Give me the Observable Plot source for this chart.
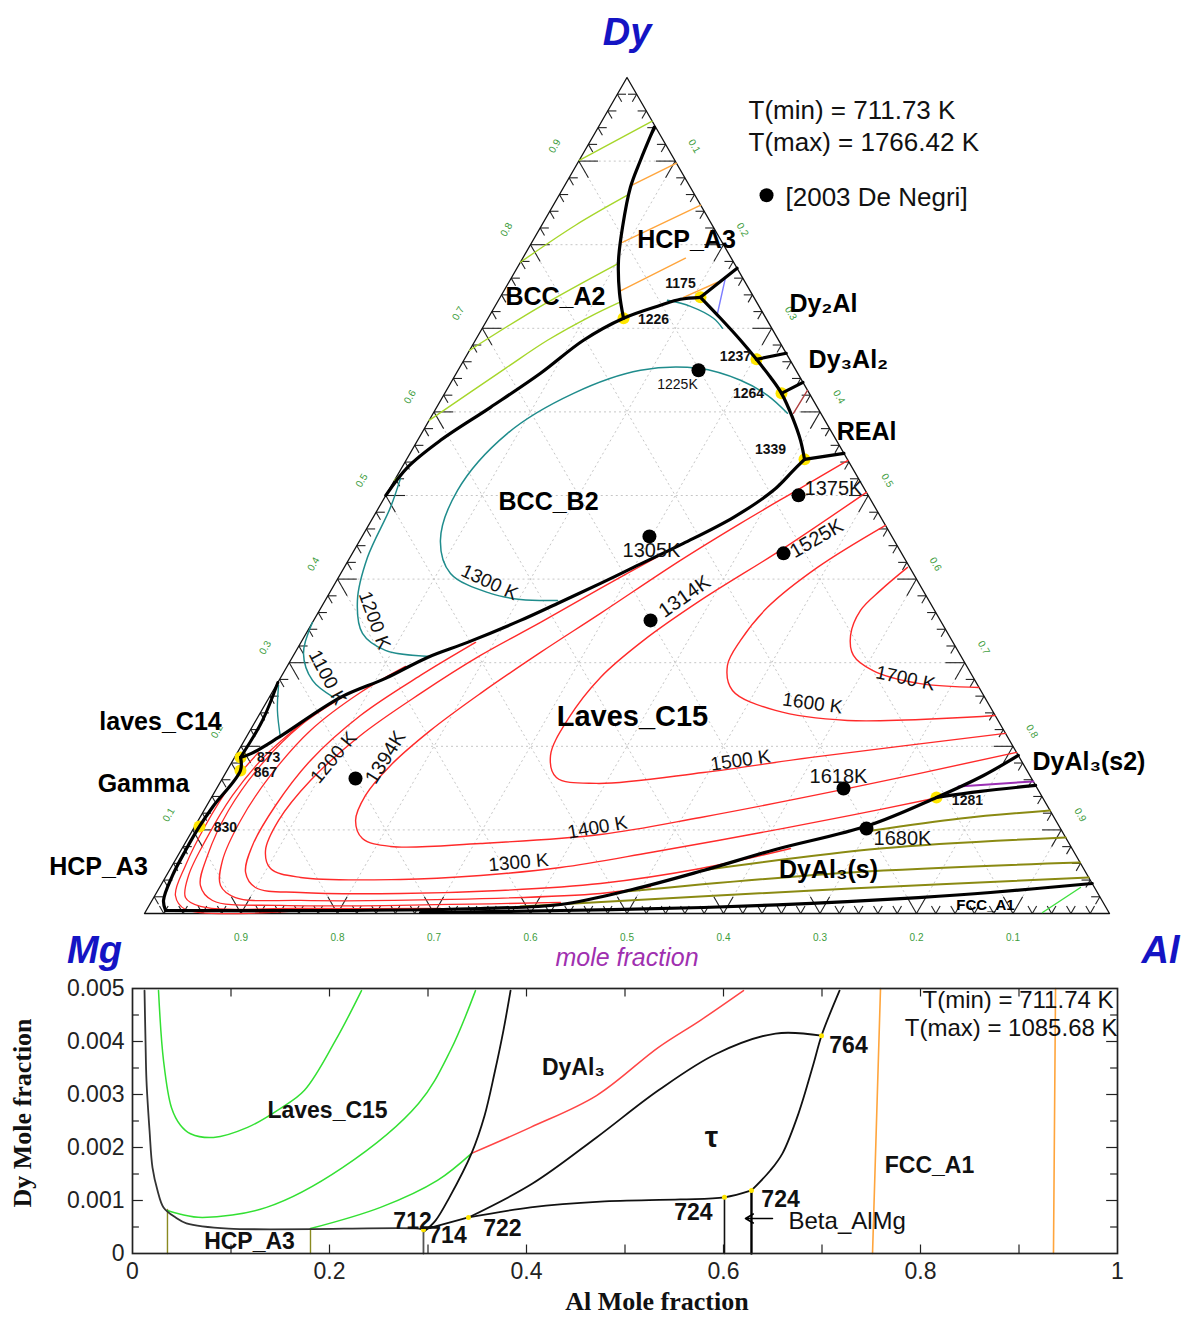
<!DOCTYPE html>
<html><head><meta charset="utf-8">
<script src="https://cdn.jsdelivr.net/npm/d3@7"></script>
<script src="https://cdn.jsdelivr.net/npm/@observablehq/plot@0.6"></script>
<style>
html,body{margin:0;padding:0;background:#fff;}
#chart svg{display:block;}
</style></head>
<body><div id="chart"></div>
<script>
// ===================== DATA: ternary Mg-Al-Dy (compositions [xAl, xDy]) =====================
const ternaryTicks = [0.1,0.2,0.3,0.4,0.5,0.6,0.7,0.8,0.9];
const tickLabelText = ["0.1","0.2","0.3","0.4","0.5","0.6","0.7","0.8","0.9"];
const triangleCorners = [[0,0],[1,0],[0,1],[0,0]];

// thick phase boundaries
const hcpBccBoundary = [[0.058,0.9405],[0.0635,0.901],[0.0692,0.8687],[0.0849,0.8209],[0.1005,0.7814],[0.1213,0.7419],[0.1404,0.712]];
const bccA2B2Boundary = [[0,0.5002],[0.0057,0.5337],[0.0237,0.566],[0.0558,0.6055],[0.0873,0.6462],[0.1121,0.6857],[0.1404,0.712],[0.1709,0.7275],[0.188,0.7347],[0.2076,0.7371]];
const dy2AlTie = [[0.2076,0.7371],[0.2282,0.7718]];
const b2RightBoundary = [[0.2076,0.7371],[0.2409,0.712],[0.2748,0.6857],[0.3027,0.6629],[0.328,0.6414],[0.349,0.6222],[0.3747,0.5935],[0.3968,0.566],[0.4123,0.5433]];
const dy3Al2TieA = [[0.3027,0.6629],[0.3299,0.6701]];
const dy3Al2TieB = [[0.349,0.6222],[0.3646,0.6354]];
const reAlTie = [[0.4123,0.5433],[0.4496,0.5504]];
const b2C15Boundary = [[0.4123,0.5433],[0.4074,0.5301],[0.3987,0.5062],[0.3735,0.4739],[0.3371,0.4427],[0.2997,0.414],[0.2751,0.3949],[0.2425,0.3709],[0.2143,0.3506],[0.1726,0.3243],[0.1401,0.3063],[0.1091,0.2812],[0.0739,0.2585],[0.0336,0.2106],[0.0152,0.1915],[0.0062,0.1867]];
const c14Boundary = [[0,0.2764],[0.0068,0.2309],[0.0062,0.1867]];
const hcpMgBoundary = [[0.0062,0.1867],[0.0139,0.1711],[0.007,0.128],[0.0049,0.1041],[0.0048,0.0754],[0.0063,0.0455],[0.0119,0.0156],[0.02,0.0036]];
const c15DyAl3Boundary = [[0.02,0.0036],[0.2117,0.0036],[0.3452,0.006],[0.4257,0.0108],[0.4913,0.0287],[0.5535,0.0515],[0.6156,0.0766],[0.6976,0.1053],[0.7513,0.1388],[0.7869,0.1651],[0.8109,0.1891]];
const dyAl3FccBoundary = [[0.2854,0.0012],[0.4293,0.0036],[0.5757,0.0072],[0.6852,0.012],[0.7925,0.0191],[0.8641,0.0251],[0.9641,0.0359]];
const dyAl3S2Boundary = [[0.7513,0.1388],[0.7933,0.146],[0.8468,0.1532]];

// thin isotherms / lines
const bccA2Lines = [
  [[0,0.901],[0.0523,0.9477]],
  [[0,0.779],[0.035,0.8233],[0.0709,0.8592]],
  [[0,0.6737],[0.0472,0.7263],[0.1023,0.7778]],
  [[0,0.5899],[0.048,0.6521],[0.0748,0.6857],[0.105,0.7144],[0.1266,0.7311]],
  [[0,0.5181],[0.0054,0.5301]]
];
const hcpA3Lines = [
  [[0.0691,0.8711],[0.1025,0.8975]],
  [[0.0938,0.8029],[0.1528,0.8472]],
  [[0.1201,0.7443],[0.1687,0.7838]],
  [[0.19,0.7371],[0.2163,0.7551]]
];
const b2Iso1300 = [[0.2407,0.3745],[0.2017,0.3757],[0.167,0.3829],[0.1137,0.4068],[0.0835,0.4463],[0.0713,0.5062],[0.089,0.5744],[0.1335,0.6222],[0.1891,0.6498],[0.248,0.6521],[0.2987,0.6378],[0.3357,0.6198],[0.3671,0.5983]];
const b2Iso1200 = [[0.005,0.5205],[0.012,0.4858],[0.0181,0.426],[0.0334,0.3745],[0.0584,0.335],[0.0923,0.3147],[0.1426,0.3075]];
const b2Iso1100 = [[0,0.348],[0.0092,0.3111],[0.0347,0.2788],[0.0667,0.2585]];
const c14Teal = [[0.0025,0.2728],[0.0163,0.2429],[0.0356,0.2106]];
const dy2AlTeal = [[0.1752,0.7335],[0.2026,0.7263],[0.2336,0.712],[0.249,0.7]];
const dy2AlBlue = [[0.2216,0.761],[0.2348,0.718]];
const reAlRed = [[0.3741,0.6258],[0.3733,0.5983]];
const dyAl3Purple = [[0.7675,0.152],[0.842,0.158]];
const fccGreen = [[0.93,0.0012],[0.9544,0.0311]];

const c15Iso1700 = [[0.5837,0.414],[0.5694,0.3865],[0.5607,0.3626],[0.5653,0.3327],[0.5803,0.3087],[0.609,0.2908],[0.6645,0.2752],[0.7296,0.2704]];
const c15Iso1600 = [[0.5357,0.4643],[0.4904,0.414],[0.4625,0.3662],[0.4543,0.3267],[0.4557,0.2968],[0.4759,0.2668],[0.5324,0.2429],[0.613,0.2309],[0.7631,0.2369]];
const c15Iso1500 = [[0.4962,0.5038],[0.4438,0.4368],[0.3889,0.3745],[0.3538,0.3267],[0.3313,0.2824],[0.3227,0.2333],[0.3262,0.1891],[0.3455,0.1627],[0.3906,0.1556],[0.4949,0.1687],[0.5979,0.1867],[0.7846,0.2154]];
const c15Iso1400 = [[0.4579,0.5421],[0.424,0.5074],[0.3843,0.4667],[0.3442,0.4224],[0.293,0.359],[0.2542,0.3123],[0.2166,0.2633],[0.1869,0.219],[0.1664,0.1771],[0.1584,0.1412],[0.1631,0.1113],[0.181,0.0897],[0.2148,0.0802],[0.3063,0.0838],[0.4252,0.0945],[0.5188,0.1149],[0.6502,0.1484],[0.8073,0.1927]];
const c15Iso1300 = [[0.3239,0.432],[0.278,0.3889],[0.2363,0.3482],[0.1938,0.3087],[0.1544,0.2633],[0.1173,0.213],[0.0924,0.1591],[0.0833,0.1113],[0.0877,0.0754],[0.1037,0.0538],[0.1402,0.0431],[0.245,0.0407],[0.3255,0.0455],[0.4036,0.055],[0.4879,0.073],[0.5807,0.0945],[0.673,0.1173],[0.7488,0.1376]];
const c15Iso1200 = [[0.1809,0.3243],[0.1436,0.2848],[0.1053,0.2369],[0.0805,0.1831],[0.0712,0.1292],[0.0712,0.0814],[0.0802,0.0491],[0.0994,0.0311],[0.1491,0.0251],[0.2533,0.0239],[0.3551,0.0275],[0.4545,0.0359],[0.5493,0.0538],[0.6305,0.0778]];
const c15Iso1100 = [[0.1227,0.2956],[0.0916,0.2644],[0.0625,0.219],[0.048,0.1651],[0.0439,0.1113],[0.0491,0.0634],[0.062,0.0335],[0.0847,0.0191],[0.1539,0.0156],[0.3087,0.0168],[0.4605,0.0239],[0.5082,0.0323]];
const c15Iso1000 = [[0.0813,0.2644],[0.0492,0.225],[0.0317,0.1771],[0.0254,0.1232],[0.0306,0.0694],[0.0412,0.0335],[0.0627,0.0156],[0.1361,0.0096],[0.3117,0.0108],[0.4245,0.0132]];
const c15Iso900 = [[0.0513,0.2309],[0.0309,0.1891],[0.0206,0.1412],[0.0195,0.0874],[0.0229,0.0455],[0.0329,0.0191],[0.0538,0.0084],[0.1587,0.006],[0.3037,0.006]];
const c15Iso800 = [[0.0218,0.1927],[0.0125,0.1532],[0.0105,0.1053],[0.0138,0.0574],[0.0213,0.0215],[0.0401,0.0048],[0.1599,0.0036]];
const dyAl3Lines = [
  [[0.7047,0.0993],[0.7888,0.1137],[0.8768,0.1232]],
  [[0.5504,0.0515],[0.7238,0.0778],[0.9091,0.0909]],
  [[0.4852,0.0263],[0.7071,0.0491],[0.939,0.061]],
  [[0.3854,0.0084],[0.7167,0.0299],[0.9569,0.0431]]
];

// invariant points (yellow) and labels
const invariantPoints = [[0.1404,0.712],[0.2076,0.7371],[0.3027,0.6629],[0.349,0.6222],[0.4123,0.5433],[0.0062,0.1867],[0.0139,0.1711],[0.0049,0.1041],[0.7513,0.1388]];
const invariantLabels = [
  {t:"1226",al:0.1721,d:0.7108},{t:"1175",al:0.1785,d:0.7539},{t:"1237",al:0.2791,d:0.6665},
  {t:"1264",al:0.3148,d:0.6222},{t:"1339",al:0.3711,d:0.5552},{t:"873",al:0.0352,d:0.1867},
  {t:"867",al:0.041,d:0.1687},{t:"830",al:0.0324,d:0.1029},{t:"1281",al:0.7852,d:0.1352}
];
// experimental points [2003 De Negri]
const deNegriPoints = [[0.2492,0.6498],[0.2977,0.4511],[0.4276,0.5002],[0.4468,0.4308],[0.3491,0.3506],[0.1379,0.1615],[0.6496,0.1496],[0.6973,0.1017]];
const deNegriLabels = [
  {t:"1305K",al:0.3082,d:0.4344,r:0},{t:"1375K",al:0.4597,d:0.5086,r:0},
  {t:"1525K",al:0.472,d:0.4487,r:-30},{t:"1314K",al:0.3699,d:0.3793,r:-35},
  {t:"1394K",al:0.1564,d:0.1867,r:-58},{t:"1618K",al:0.6372,d:0.1639,r:0},
  {t:"1680K",al:0.7406,d:0.0897,r:0}
];
const deNegriSmall = [{t:"1225K",al:0.2358,d:0.633}];
const isothermLabels = [
  {t:"1300 K",al:0.1595,d:0.3961,r:25},{t:"1200 K",al:0.063,d:0.3506,r:70},
  {t:"1100 K",al:0.0484,d:0.2824,r:62},{t:"1700 K",al:0.648,d:0.2812,r:12},
  {t:"1600 K",al:0.5666,d:0.2513,r:8},{t:"1500 K",al:0.5261,d:0.1831,r:-8},
  {t:"1400 K",al:0.4179,d:0.1029,r:-10},{t:"1300 K",al:0.3571,d:0.061,r:-5},
  {t:"1200 K",al:0.1026,d:0.1867,r:-50}
];
const phaseLabels = [
  {t:"HCP_A3",al:0.159,d:0.8053},{t:"BCC_A2",al:0.0573,d:0.7371},{t:"Dy₂Al",al:0.3392,d:0.7287},
  {t:"Dy₃Al₂",al:0.3986,d:0.6617},{t:"REAl",al:0.4604,d:0.5756},{t:"BCC_B2",al:0.1728,d:0.4918},
  {t:"laves_C14",al:-0.0977,d:0.2286},{t:"Gamma",al:-0.0782,d:0.1544},{t:"HCP_A3",al:-0.0758,d:0.0562},
  {t:"DyAl₃(s)",al:0.6831,d:0.0515}
];
const phaseLabelBig = [{t:"Laves_C15",al:0.3878,d:0.2357}];
const phaseLabelStart = [{t:"DyAl₃(s2)",al:0.8298,d:0.1807}];
const phaseLabelSmall = [{t:"FCC_A1",al:0.8667,d:0.0096}];
const legendDot = [[0.215,0.8592]];

// ===================== DATA: isothermal section at low Dy =====================
const xTickLabels = [0,0.2,0.4,0.6,0.8,1];
const xTickMarks = [0.1,0.2,0.3,0.4,0.5,0.6,0.7,0.8,0.9];
const yTickLabels = [0,0.001,0.002,0.003,0.004,0.005];
const yTickMajor = [0.001,0.002,0.003,0.004];
const yTickMinor = [0.0005,0.0015,0.0025,0.0035,0.0045];

const hcpA3Curve = [[0.0122,0.00496],[0.0132,0.00402],[0.0142,0.00326],[0.0173,0.00232],[0.0203,0.00162],[0.0254,0.00119],[0.0315,0.00087],[0.0437,0.00068],[0.0548,0.00057],[0.0975,0.00047],[0.2904,0.00047],[0.2954,0.00045]];
const al295Line = [[0.2954,0.00045],[0.2954,0]];
const dyAl3Left = [[0.2964,0.00042],[0.3076,0.00062],[0.3218,0.00106],[0.3442,0.00189],[0.3574,0.0026],[0.3675,0.0034],[0.3766,0.00421],[0.3838,0.00496]];
const tie712to722 = [[0.2954,0.00045],[0.3411,0.00068]];
const tauUpper = [[0.3411,0.00068],[0.4061,0.00132],[0.4711,0.00219],[0.534,0.00308],[0.5929,0.00377],[0.6528,0.00415],[0.6995,0.00411]];
const tauLower = [[0.3411,0.00068],[0.4041,0.00087],[0.4751,0.00098],[0.5563,0.00102],[0.601,0.00106],[0.6284,0.00119]];
const tauRight = [[0.6284,0.00119],[0.6477,0.00157],[0.6599,0.00189],[0.6761,0.00264],[0.6914,0.00358],[0.6995,0.00411],[0.7178,0.00496]];
const al60Line = [[0.601,0.00106],[0.601,0]];
const betaLine = [[0.6284,0.00119],[0.6284,0]];
const oliveVerticals = [[[0.0355,0],[0.0355,0.00083]],[[0.1807,0],[0.1807,0.00047]]];
const greenUpper = [[0.0264,0.00496],[0.0315,0.00364],[0.0396,0.00275],[0.0487,0.00242],[0.0589,0.00226],[0.0822,0.00219],[0.1168,0.00238],[0.1503,0.00274],[0.1746,0.00308],[0.2061,0.00402],[0.2325,0.00496]];
const greenMiddle = [[0.0355,0.00081],[0.0487,0.00074],[0.0711,0.00068],[0.136,0.00087],[0.2132,0.00162],[0.2904,0.00283],[0.3228,0.00383],[0.3482,0.00496]];
const greenLower = [[0.1807,0.00047],[0.2518,0.00087],[0.3096,0.00138],[0.3442,0.00189]];
const redCurve = [[0.3442,0.00189],[0.4041,0.00238],[0.4711,0.00298],[0.534,0.00389],[0.5766,0.0044],[0.6203,0.00496]];
const orangeVerticals = [[[0.7513,0],[0.7594,0.005]],[[0.935,0],[0.9371,0.005]]];
const sectionInvariants = [[0.2954,0.00045],[0.3411,0.00068],[0.601,0.00106],[0.6284,0.00119],[0.6995,0.00411]];
const sectionNumLabels = [
  {t:"712",al:0.2843,d:0.0006},{t:"714",al:0.3198,d:0.00034},{t:"722",al:0.3756,d:0.00047},
  {t:"724",al:0.5695,d:0.00077},{t:"724",al:0.6579,d:0.00102},{t:"764",al:0.7269,d:0.00392}
];
const sectionPhaseLabels = [
  {t:"Laves_C15",al:0.198,d:0.0027},{t:"DyAl₃",al:0.4477,d:0.00351},
  {t:"FCC_A1",al:0.8091,d:0.00166},{t:"HCP_A3",al:0.1188,d:0.00023}
];
const tauLabel = [{t:"τ",al:0.5878,d:0.00219}];
const betaArrow = [{x1:0.6497,x2:0.6223,y:0.00066}];
const betaLabel = [{t:"Beta_AlMg",al:0.666,d:0.0006}];

// ===================== DRAWING =====================
const SANS = "'Liberation Sans', Arial, Helvetica, sans-serif";
const SERIF = "'Liberation Serif', 'Times New Roman', serif";
const SQ3 = Math.sqrt(3) / 2;
const toXY = ([al, dy]) => ({x: al + dy / 2, y: dy * SQ3});
const path = arr => arr.map(toXY);
const multi = list => list.flatMap((arr, i) => arr.map(p => ({...toXY(p), z: i})));
const tline = (arr, stroke, w, curve = "catmull-rom") => Plot.line(path(arr), {x: "x", y: "y", stroke, strokeWidth: w, curve, strokeLinejoin: "round", strokeLinecap: "round"});
const tlines = (list, stroke, w) => Plot.line(multi(list), {x: "x", y: "y", z: "z", stroke, strokeWidth: w, curve: "catmull-rom"});
const PX = d => toXY([d.al, d.d]).x, PY = d => toXY([d.al, d.d]).y;

// grid & ticks derived from tick levels
const gridSegs = [];
for (const v of ternaryTicks) {
  gridSegs.push([[0, v], [1 - v, v]], [[v, 0], [v, 1 - v]], [[1 - v, 0], [0, 1 - v]]);
}
const tickSegs = [];
for (let i = 1; i < 50; i++) {
  const v = i / 50, L = (i % 5 === 0) ? 0.02 : 0.009;
  tickSegs.push([[0, v], [L, v]], [[0, v], [L, v - L]]);
  tickSegs.push([[v, 1 - v], [v - L, 1 - v]], [[v, 1 - v], [v, 1 - v - L]]);
  tickSegs.push([[v, 0], [v, L]], [[v, 0], [v - L, L]]);
}
const seg = (data, opts) => Plot.link(data, {x1: s => toXY(s[0]).x, y1: s => toXY(s[0]).y, x2: s => toXY(s[1]).x, y2: s => toXY(s[1]).y, ...opts});

const RED = "#ff2a2a", TEAL = "#1f8c8c", LIME = "#a6d62a", ORANGE = "#ffa53c", OLIVE = "#8a8a12";
const GREENTXT = "#3c9c3c";

const topPlot = Plot.plot({
  width: 1188, height: 975,
  marginLeft: 144, marginRight: 79, marginTop: 77, marginBottom: 62,
  x: {domain: [0, 1], axis: null},
  y: {domain: [0, SQ3], axis: null},
  style: {fontFamily: SANS, background: "#fff", overflow: "visible"},
  marks: [
    seg(gridSegs, {stroke: "#c6c6c6", strokeWidth: 1, strokeDasharray: "2,3"}),
    seg(tickSegs, {stroke: "#222", strokeWidth: 1.1}),
    tline(triangleCorners, "#111", 1.3, "linear"),
    // edge tick labels
    Plot.text(ternaryTicks, {x: v => toXY([0, v]).x, y: v => toXY([0, v]).y, text: (v, i) => tickLabelText[i], dx: -24, dy: -15, rotate: -60, fontSize: 10, fill: GREENTXT}),
    Plot.text(ternaryTicks, {x: v => toXY([v, 1 - v]).x, y: v => toXY([v, 1 - v]).y, text: (v, i) => tickLabelText[i], dx: 19, dy: -15, rotate: 60, fontSize: 10, fill: GREENTXT}),
    Plot.text(ternaryTicks, {x: v => toXY([1 - v, 0]).x, y: 0, text: (v, i) => tickLabelText[i], dy: 24, fontSize: 10, fill: GREENTXT}),
    // thin lines
    tlines(bccA2Lines, LIME, 1.4),
    tlines(hcpA3Lines, ORANGE, 1.4),
    tline(b2Iso1300, TEAL, 1.5), tline(b2Iso1200, TEAL, 1.5), tline(b2Iso1100, TEAL, 1.5),
    tline(c14Teal, TEAL, 1.4), tline(dy2AlTeal, TEAL, 1.4),
    tline(dy2AlBlue, "#7b7bff", 1.4), tline(reAlRed, "#b04040", 1.4),
    tline(dyAl3Purple, "#9a2fb4", 2), tline(fccGreen, "#3ee03e", 1.4),
    tline(c15Iso1700, RED, 1.4), tline(c15Iso1600, RED, 1.4), tline(c15Iso1500, RED, 1.4),
    tline(c15Iso1400, RED, 1.4), tline(c15Iso1300, RED, 1.4), tline(c15Iso1200, RED, 1.4),
    tline(c15Iso1100, RED, 1.3), tline(c15Iso1000, RED, 1.3), tline(c15Iso900, RED, 1.3), tline(c15Iso800, RED, 1.3),
    tlines(dyAl3Lines, OLIVE, 2),
    // invariant points
    Plot.dot(path(invariantPoints), {x: "x", y: "y", r: 6, fill: "#ffe600", stroke: "none"}),
    // thick boundaries
    tline(hcpBccBoundary, "#000", 3.2), tline(bccA2B2Boundary, "#000", 3.2), tline(dy2AlTie, "#000", 3.2),
    tline(b2RightBoundary, "#000", 3.2), tline(dy3Al2TieA, "#000", 3.2), tline(dy3Al2TieB, "#000", 3.2),
    tline(reAlTie, "#000", 3.2), tline(b2C15Boundary, "#000", 3.2), tline(c14Boundary, "#000", 3),
    tline(hcpMgBoundary, "#000", 3.2), tline(c15DyAl3Boundary, "#000", 3.2), tline(dyAl3FccBoundary, "#000", 3.2),
    tline(dyAl3S2Boundary, "#000", 3.2),
    // experimental points
    Plot.dot(path(deNegriPoints), {x: "x", y: "y", r: 7, fill: "#000"}),
    Plot.dot(path(legendDot), {x: "x", y: "y", r: 7, fill: "#000"}),
    // labels
    Plot.text(invariantLabels, {x: PX, y: PY, text: "t", fontSize: 14, fontWeight: "bold", fill: "#111"}),
    Plot.text(deNegriLabels, {x: PX, y: PY, text: "t", rotate: "r", fontSize: 20, fill: "#111"}),
    Plot.text(deNegriSmall, {x: PX, y: PY, text: "t", fontSize: 14, fill: "#111"}),
    Plot.text(isothermLabels, {x: PX, y: PY, text: "t", rotate: "r", fontSize: 19, fill: "#111"}),
    Plot.text(phaseLabels, {x: PX, y: PY, text: "t", fontSize: 25, fontWeight: "bold", fill: "#000"}),
    Plot.text(phaseLabelBig, {x: PX, y: PY, text: "t", fontSize: 29, fontWeight: "bold", fill: "#000"}),
    Plot.text(phaseLabelStart, {x: PX, y: PY, text: "t", fontSize: 25, fontWeight: "bold", fill: "#000", textAnchor: "start"}),
    Plot.text(phaseLabelSmall, {x: PX, y: PY, text: "t", fontSize: 15, fontWeight: "bold", fill: "#000"}),
    // titles and annotations
    Plot.text(["Dy"], {frameAnchor: "top", lineAnchor: "middle", dy: -45, fontSize: 38, fontWeight: "bold", fontStyle: "italic", fill: "#1414c4"}),
    Plot.text(["Mg"], {frameAnchor: "bottom-left", lineAnchor: "middle", textAnchor: "middle", dx: -50, dy: 37, fontSize: 38, fontWeight: "bold", fontStyle: "italic", fill: "#1414c4"}),
    Plot.text(["Al"], {frameAnchor: "bottom-right", lineAnchor: "middle", textAnchor: "middle", dx: 51, dy: 37, fontSize: 38, fontWeight: "bold", fontStyle: "italic", fill: "#1414c4"}),
    Plot.text(["mole fraction"], {frameAnchor: "bottom", lineAnchor: "middle", dy: 44, fontSize: 25, fontStyle: "italic", fill: "#a030b0"}),
    Plot.text(["T(min) = 711.73 K"], {frameAnchor: "top-right", lineAnchor: "middle", dx: -361, dy: 33, textAnchor: "start", fontSize: 26, fill: "#111"}),
    Plot.text(["T(max) = 1766.42 K"], {frameAnchor: "top-right", lineAnchor: "middle", dx: -361, dy: 65, textAnchor: "start", fontSize: 26, fill: "#111"}),
    Plot.text(["[2003 De Negri]"], {frameAnchor: "top-right", lineAnchor: "middle", dx: -324, dy: 120, textAnchor: "start", fontSize: 26, fill: "#111"})
  ]
});

// ---------- bottom section plot ----------
const bl = (arr, stroke, w) => Plot.line(arr, {x: d => d[0], y: d => d[1], stroke, strokeWidth: w, curve: "catmull-rom"});
const bls = (list, stroke, w) => Plot.line(list.flatMap((a, i) => a.map(p => ({x: p[0], y: p[1], z: i}))), {x: "x", y: "y", z: "z", stroke, strokeWidth: w});
const BX = d => d.al, BY = d => d.d;

const botPlot = Plot.plot({
  width: 1188, height: 342,
  marginLeft: 132, marginRight: 71, marginTop: 13, marginBottom: 64,
  x: {domain: [0, 1]},
  y: {domain: [0, 0.005]},
  style: {fontFamily: SANS, background: "#fff", overflow: "visible"},
  marks: [
    // inward ticks on all four sides
    Plot.ruleX(xTickMarks, {y1: 0, y2: 0.00016, stroke: "#222", strokeWidth: 1.2}),
    Plot.ruleX(xTickMarks, {y1: 0.00484, y2: 0.005, stroke: "#222", strokeWidth: 1.2}),
    Plot.ruleY(yTickMajor, {x1: 0, x2: 0.011, stroke: "#222", strokeWidth: 1.2}),
    Plot.ruleY(yTickMinor, {x1: 0, x2: 0.007, stroke: "#222", strokeWidth: 1.2}),
    Plot.ruleY(yTickMajor, {x1: 0.989, x2: 1, stroke: "#222", strokeWidth: 1.2}),
    Plot.ruleY(yTickMinor, {x1: 0.993, x2: 1, stroke: "#222", strokeWidth: 1.2}),
    Plot.axisX(xTickLabels, {tickSize: 0, tickPadding: 9, fontSize: 23, label: null, tickFormat: d => String(d), fill: "#222"}),
    Plot.axisY(yTickLabels, {tickSize: 0, tickPadding: 8, fontSize: 23, label: null, tickFormat: d => d === 0 ? "0" : d3.format(".3f")(d), fill: "#222"}),
    // lines
    bls(orangeVerticals, ORANGE, 1.6),
    bls(oliveVerticals, "#8a8a20", 1.4),
    bl(greenUpper, "#33e033", 1.5), bl(greenMiddle, "#33e033", 1.5), bl(greenLower, "#33e033", 1.5),
    bl(redCurve, "#ff4545", 1.5),
    bl(hcpA3Curve, "#333", 1.8), bl(al295Line, "#555", 1.8), bl(dyAl3Left, "#111", 1.8),
    bl(tie712to722, "#111", 1.8), bl(tauUpper, "#111", 1.8), bl(tauLower, "#111", 1.8), bl(tauRight, "#111", 1.8),
    bl(al60Line, "#111", 1.6), bl(betaLine, "#000", 2.4),
    Plot.dot(sectionInvariants, {x: d => d[0], y: d => d[1], r: 2.5, fill: "#ffe600"}),
    Plot.arrow(betaArrow, {x1: "x1", x2: "x2", y1: "y", y2: "y", headLength: 10, strokeWidth: 1.6, stroke: "#000"}),
    Plot.frame({stroke: "#222", strokeWidth: 1.7}),
    // labels
    Plot.text(sectionNumLabels, {x: BX, y: BY, text: "t", fontSize: 23, fontWeight: "bold", fill: "#111"}),
    Plot.text(sectionPhaseLabels, {x: BX, y: BY, text: "t", fontSize: 23, fontWeight: "bold", fill: "#111"}),
    Plot.text(tauLabel, {x: BX, y: BY, text: "t", fontSize: 30, fontWeight: "bold", fill: "#111"}),
    Plot.text(betaLabel, {x: BX, y: BY, text: "t", fontSize: 24, textAnchor: "start", fill: "#111"}),
    Plot.text(["T(min) = 711.74 K"], {frameAnchor: "top-right", lineAnchor: "middle", dx: -4, dy: 12, textAnchor: "end", fontSize: 24, fill: "#111"}),
    Plot.text(["T(max) = 1085.68 K"], {frameAnchor: "top-right", lineAnchor: "middle", dx: 0, dy: 40, textAnchor: "end", fontSize: 24, fill: "#111"}),
    Plot.text(["Al Mole fraction"], {frameAnchor: "bottom", lineAnchor: "middle", textAnchor: "middle", dx: 32, dy: 48, fontSize: 26, fontWeight: "bold", fontFamily: SERIF, fill: "#111"}),
    Plot.text(["Dy Mole fraction"], {frameAnchor: "left", lineAnchor: "middle", textAnchor: "middle", dx: -110, dy: -8, rotate: -90, fontSize: 26, fontWeight: "bold", fontFamily: SERIF, fill: "#111"})
  ]
});

document.getElementById("chart").append(topPlot, botPlot);
</script>
</body></html>
